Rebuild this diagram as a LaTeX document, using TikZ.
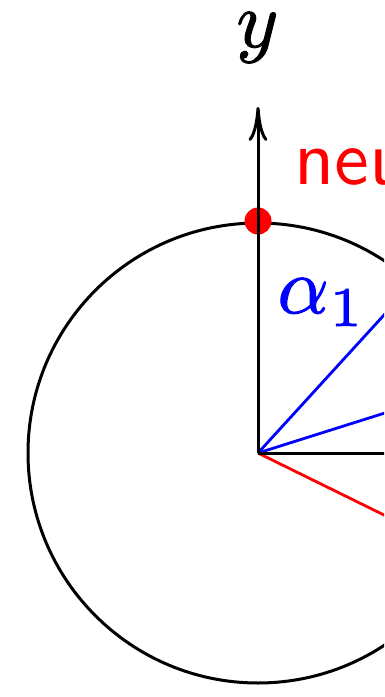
\documentclass[tikz,border=0pt]{standalone}
\usetikzlibrary{arrows.meta}
\font\mibig="[latinmodern-math.otf]:embolden=1.3" at 80pt
\font\rmsub="[lmroman7-regular.otf]:embolden=1.3" at 56pt
\font\ssbig="[lmsans10-regular.otf]" at 78pt
\begin{document}
\begin{tikzpicture}[x=1pt,y=-1pt,line width=3pt,
  lbl/.style={inner sep=0pt},
  ray/.style={line width=2.8pt}]
\useasboundingbox (0,0) rectangle (384,697);
\clip (0,0) rectangle (384,697);
\coordinate (O) at (258,453);
\coordinate (ytip) at (258,107);
\coordinate (xend) at (420,453);
\coordinate (b1) at ([shift={(O)}] 47.6:230pt);
\coordinate (b2) at ([shift={(O)}] 17.5:230pt);
\coordinate (r1) at ([shift={(O)}] -26.2:230pt);
\draw (O) circle[radius=230pt];
\draw[ray,blue] (O) -- (b1);
\draw[ray,blue] (O) -- (b2);
\draw[ray,red] (O) -- (r1);
\draw (O) -- (xend);
\draw[-{Computer Modern Rightarrow[length=34pt,width=19pt]}] (O) -- (ytip);
\node[circle,fill=red,inner sep=0pt,minimum size=27pt] (dot) at (258,221) {};
\draw (O) -- (258,200);
\node[lbl,anchor=base] (ylab) at (256,47) {\mibig 𝑦};
\node[lbl,anchor=base west,text=red] (neu) at (293,184) {\ssbig neu};
\node[lbl,anchor=base west,text=blue] (alpha) at (276,313) {\mibig 𝛼\kern1pt\raisebox{-13pt}{\rmsub 1}};
\end{tikzpicture}
\end{document}
